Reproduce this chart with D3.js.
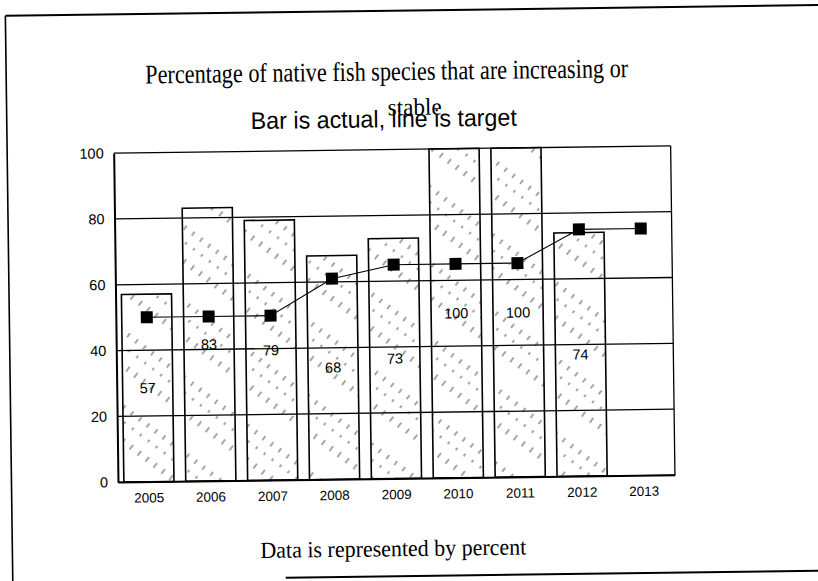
<!DOCTYPE html>
<html>
<head>
<meta charset="utf-8">
<script src="https://cdn.jsdelivr.net/npm/d3@7"></script>
<style>
  body { margin: 0; background: #fff; }
  svg { display: block; }
</style>
</head>
<body>
<div id="chart"></div>
<script>

// data
var years = ["2005", "2006", "2007", "2008", "2009", "2010", "2011", "2012", "2013"];
var actual = [57, 83, 79, 68, 73, 100, 100, 74, null];   // bars
var target = [50, 50, 50, 61, 65, 65, 65, 75, 75];       // line
var yTicks = [0, 20, 40, 60, 80, 100];

var W = 818, H = 581;

// plot area
var plot = { left: 115.5, right: 672.5, top: 149.3, bottom: 478.4 };

var svg = d3.select("#chart")
  .append("svg")
  .attr("width", W)
  .attr("height", H);

// pattern for the hatched bars
var defs = svg.append("defs");
var pat = defs.append("pattern")
  .attr("id", "hatch")
  .attr("patternUnits", "userSpaceOnUse")
  .attr("width", 10)
  .attr("height", 60)
  .attr("patternTransform", "rotate(38)");
pat.append("line")
  .attr("x1", 5).attr("y1", 0)
  .attr("x2", 5).attr("y2", 60)
  .attr("stroke", "#222")
  .attr("stroke-width", 1)
  .attr("stroke-dasharray", "5,8,3,11,6,27")
  .attr("opacity", 0.8);

// whole page is slightly tilted, like the scan
var g = svg.append("g")
  .attr("transform", "rotate(-0.75," + W / 2 + "," + H / 2 + ")");

// frame of the page
g.append("line")
  .attr("x1", 9).attr("y1", 10.5).attr("x2", 830).attr("y2", 10.5)
  .attr("stroke", "#000").attr("stroke-width", 2);
g.append("line")
  .attr("x1", 9).attr("y1", 10.5).attr("x2", 9).attr("y2", 590)
  .attr("stroke", "#000").attr("stroke-width", 1.6);
g.append("line")
  .attr("x1", 282).attr("y1", 576).attr("x2", 830).attr("y2", 576)
  .attr("stroke", "#000").attr("stroke-width", 2);

// titles
g.append("text")
  .attr("x", 148).attr("y", 80)
  .attr("font-family", "Liberation Serif, Times New Roman, serif")
  .attr("font-size", 27)
  .attr("textLength", 483)
  .attr("lengthAdjust", "spacingAndGlyphs")
  .text("Percentage of native fish species that are increasing or");

g.append("text")
  .attr("x", 253).attr("y", 127)
  .attr("font-family", "Liberation Sans, Arial, sans-serif")
  .attr("font-size", 24)
  .attr("textLength", 266)
  .attr("lengthAdjust", "spacingAndGlyphs")
  .text("Bar is actual, line is target");

g.append("text")
  .attr("x", 390).attr("y", 115)
  .attr("font-family", "Liberation Serif, Times New Roman, serif")
  .attr("font-size", 24)
  .attr("textLength", 54)
  .attr("lengthAdjust", "spacingAndGlyphs")
  .text("stable");

g.append("text")
  .attr("x", 390).attr("y", 556)
  .attr("text-anchor", "middle")
  .attr("font-family", "Liberation Serif, Times New Roman, serif")
  .attr("font-size", 23)
  .attr("textLength", 266)
  .attr("lengthAdjust", "spacingAndGlyphs")
  .text("Data is represented by percent");

// scales
var x = d3.scaleBand()
  .domain(years)
  .range([plot.left, plot.right])
  .paddingInner(0.19)
  .paddingOuter(0.095);

var y = d3.scaleLinear()
  .domain([0, 100])
  .range([plot.bottom, plot.top]);

// gridlines
g.append("g")
  .selectAll("line")
  .data(yTicks)
  .enter()
  .append("line")
  .attr("x1", plot.left).attr("x2", plot.right)
  .attr("y1", function(d) { return y(d); })
  .attr("y2", function(d) { return y(d); })
  .attr("stroke", "#000")
  .attr("stroke-width", 1.3);

// right edge of the plot
g.append("line")
  .attr("x1", plot.right).attr("x2", plot.right)
  .attr("y1", plot.top).attr("y2", plot.bottom)
  .attr("stroke", "#000").attr("stroke-width", 1.3);

// bars
var barData = years.map(function(yr, i) { return { year: yr, v: actual[i] }; })
  .filter(function(d) { return d.v != null; });

g.append("g")
  .selectAll("rect")
  .data(barData)
  .enter()
  .append("rect")
  .attr("x", function(d) { return x(d.year); })
  .attr("y", function(d) { return y(d.v); })
  .attr("width", x.bandwidth())
  .attr("height", function(d) { return y(0) - y(d.v); })
  .attr("fill", "url(#hatch)")
  .attr("stroke", "#000")
  .attr("stroke-width", 1.6);

// value labels, half way up each bar
g.append("g")
  .selectAll("text")
  .data(barData)
  .enter()
  .append("text")
  .attr("x", function(d) { return x(d.year) + x.bandwidth() / 2; })
  .attr("y", function(d) { return y(d.v / 2); })
  .attr("dy", "0.35em")
  .attr("text-anchor", "middle")
  .attr("font-family", "Liberation Sans, Arial, sans-serif")
  .attr("font-size", 14.5)
  .text(function(d) { return d.v; });

// y axis
var yAxis = g.append("g")
  .attr("transform", "translate(" + plot.left + ",0)")
  .call(d3.axisLeft(y).tickValues(yTicks).tickSize(0).tickPadding(10));
yAxis.select(".domain").attr("stroke", "#000").attr("stroke-width", 2);
yAxis.selectAll("text")
  .attr("font-family", "Liberation Sans, Arial, sans-serif")
  .attr("font-size", 14.5)
  .attr("fill", "#000");

// x axis labels
var xAxis = g.append("g")
  .attr("transform", "translate(0," + plot.bottom + ")")
  .call(d3.axisBottom(x).tickSize(0).tickPadding(11));
xAxis.select(".domain").attr("stroke", "#000").attr("stroke-width", 1.8);
xAxis.selectAll("text")
  .attr("font-family", "Liberation Sans, Arial, sans-serif")
  .attr("font-size", 13.5)
  .attr("fill", "#000");

// target line
var line = d3.line()
  .x(function(d, i) { return x(years[i]) + x.bandwidth() / 2; })
  .y(function(d) { return y(d); });

g.append("path")
  .datum(target)
  .attr("fill", "none")
  .attr("stroke", "#000")
  .attr("stroke-width", 1.1)
  .attr("d", line);

g.append("g")
  .selectAll("rect")
  .data(target)
  .enter()
  .append("rect")
  .attr("x", function(d, i) { return x(years[i]) + x.bandwidth() / 2 - 6; })
  .attr("y", function(d) { return y(d) - 6; })
  .attr("width", 12)
  .attr("height", 12)
  .attr("fill", "#000");

</script>
</body>
</html>
